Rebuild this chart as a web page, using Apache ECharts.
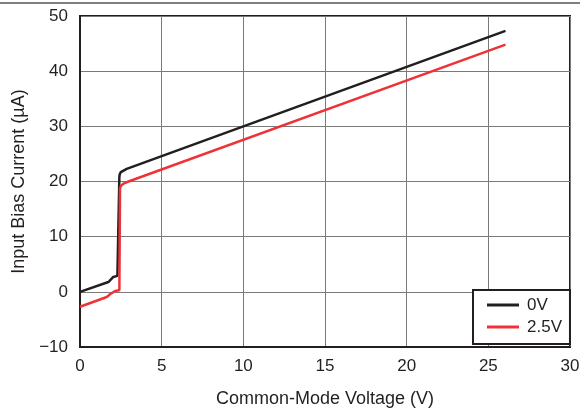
<!DOCTYPE html>
<html>
<head>
<meta charset="utf-8">
<script src="https://cdn.jsdelivr.net/npm/echarts@6/dist/echarts.min.js"></script>
<style>html,body{margin:0;padding:0;background:#fff}#c{width:580px;height:408px}</style>
</head>
<body>
<div id="c"></div>
<script>
const seriesNames = ['0V', '2.5V'];
const blackX = [0, 1.74, 2.04, 2.29, 2.38, 2.41, 2.43, 2.5, 2.6, 2.86, 26.05];
const blackY = [0, 1.78, 2.7, 2.9, 3.0, 20.8, 21.3, 21.7, 22.0, 22.3, 47.3];
const redX = [0, 1.64, 1.84, 2.15, 2.41, 2.45, 2.5, 2.66, 2.97, 26.05];
const redY = [-2.7, -0.94, -0.45, 0.15, 0.27, 18.7, 19.2, 19.6, 20.0, 44.8];
const xTicks = [0, 5, 10, 15, 20, 25, 30];
const yTicks = [-10, 0, 10, 20, 30, 40, 50];

const font = 'Liberation Sans, Arial, sans-serif';
const ink = '#231f20';
const chart = echarts.init(document.getElementById('c'), null, {renderer: 'canvas'});
const zip = (xs, ys) => xs.map((x, i) => [x, ys[i]]);
chart.setOption({
  animation: false,
  backgroundColor: '#fff',
  grid: {left: 80, right: 10, top: 16, bottom: 61, show: true, borderColor: ink, borderWidth: 2,
         backgroundColor: 'transparent', containLabel: false, outerBoundsMode: 'none'},
  graphic: [{type: 'line', shape: {x1: 0, y1: 3, x2: 580, y2: 3}, style: {stroke: '#000', lineWidth: 1}}],
  xAxis: {
    type: 'value', min: xTicks[0], max: xTicks[xTicks.length - 1], interval: 5,
    name: 'Common-Mode Voltage (V)', nameLocation: 'middle', nameGap: 43,
    nameTextStyle: {fontFamily: font, fontSize: 18, color: ink},
    axisLine: {show: true, onZero: false, lineStyle: {color: ink, width: 2}},
    axisTick: {show: false},
    axisLabel: {fontFamily: font, fontSize: 17, color: ink, margin: 11},
    splitLine: {show: true, lineStyle: {color: '#7a7a7a', width: 1}}
  },
  yAxis: {
    type: 'value', min: yTicks[0], max: yTicks[yTicks.length - 1], interval: 10,
    name: 'Input Bias Current (µA)', nameLocation: 'middle', nameGap: 48,
    nameTextStyle: {fontFamily: font, fontSize: 18, color: ink},
    axisLine: {show: true, onZero: false, lineStyle: {color: ink, width: 2}},
    axisTick: {show: false},
    axisLabel: {fontFamily: font, fontSize: 17, color: ink, margin: 12,
      formatter: v => v < 0 ? '\u2212' + Math.abs(v) : String(v)},
    splitLine: {show: true, lineStyle: {color: '#7a7a7a', width: 1}}
  },
  legend: {
    orient: 'vertical', left: 473, top: 290,
    backgroundColor: '#fff', borderColor: ink, borderWidth: 2, borderRadius: 0,
    padding: [6, 8, 8, 14], itemGap: 4, itemWidth: 32, itemHeight: 3,
    icon: 'rect',
    textStyle: {fontFamily: font, fontSize: 17, color: ink, lineHeight: 18, padding: [0, 0, 0, 3]},
    data: seriesNames
  },
  series: [
    {name: seriesNames[0], type: 'line', data: zip(blackX, blackY), symbol: 'none', smooth: false,
     lineStyle: {color: ink, width: 2.5}, itemStyle: {color: ink}, z: 3},
    {name: seriesNames[1], type: 'line', data: zip(redX, redY), symbol: 'none', smooth: false,
     lineStyle: {color: '#ee3338', width: 2.5}, itemStyle: {color: '#ee3338'}, z: 4}
  ]
});
</script>
</body>
</html>
